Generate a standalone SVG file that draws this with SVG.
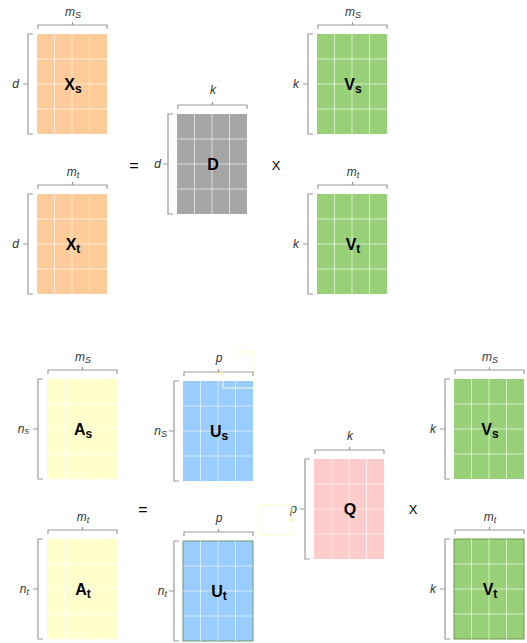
<svg xmlns="http://www.w3.org/2000/svg" xmlns:xlink="http://www.w3.org/1999/xlink" width="527" height="643" viewBox="0 0 527 643">
<style>
text{font-family:"Liberation Sans",Arial,sans-serif}
.lbl{font-size:12px;font-style:italic;fill:#333}
.sub{font-size:9px}
.big{font-size:16px;font-weight:bold;fill:#000}
.bsub{font-size:12px}
.op{font-size:16px;fill:#000}
.opx{font-size:13px;fill:#000}
.grid{stroke:#fff;stroke-opacity:0.6;stroke-width:1;fill:none}
.brace{stroke:#999;stroke-width:1.2;fill:none}
.faint{stroke:#ffffcc;stroke-width:1;fill:none}
</style>
<defs>
<path id="grid" class="grid" d="M17.5 0V100M35 0V100M52.5 0V100M0 25H70M0 50H70M0 75H70"/>
<path id="brace" class="brace" d="M1 -5V-9H70V-5M35.5 -9V-12M-4 0H-9V100H-4M-9 50H-14"/>
</defs>
<g id="connectors"></g>
<g id="Xs" transform="translate(37,34)">
<rect width="70" height="100" fill="#ffcc99"/><use xlink:href="#grid"/><use xlink:href="#brace"/>
<text class="lbl" x="36" y="-18" text-anchor="middle">m<tspan class="sub" dy="2">S</tspan></text>
<text class="lbl" x="-18" y="54" text-anchor="end">d</text>
<text class="big" x="36" y="56" text-anchor="middle">X<tspan class="bsub" dy="3">s</tspan></text>
</g>
<g id="Xt" transform="translate(37,194)">
<rect width="70" height="100" fill="#ffcc99"/><use xlink:href="#grid"/><use xlink:href="#brace"/>
<text class="lbl" x="36" y="-18" text-anchor="middle">m<tspan class="sub" dy="2">t</tspan></text>
<text class="lbl" x="-18" y="54" text-anchor="end">d</text>
<text class="big" x="36" y="56" text-anchor="middle">X<tspan class="bsub" dy="3">t</tspan></text>
</g>
<g id="D" transform="translate(177,114)">
<rect width="70" height="100" fill="#a6a6a6"/><use xlink:href="#grid"/><use xlink:href="#brace"/>
<text class="lbl" x="36" y="-20" text-anchor="middle">k</text>
<text class="lbl" x="-16" y="54" text-anchor="end">d</text>
<text class="big" x="36" y="56" text-anchor="middle">D</text>
</g>
<g id="Vs" transform="translate(317,34)">
<rect width="70" height="100" fill="#97d077"/><use xlink:href="#grid"/><use xlink:href="#brace"/>
<text class="lbl" x="36" y="-18" text-anchor="middle">m<tspan class="sub" dy="2">S</tspan></text>
<text class="lbl" x="-18" y="54" text-anchor="end">k</text>
<text class="big" x="36" y="56" text-anchor="middle">V<tspan class="bsub" dy="3">s</tspan></text>
</g>
<g id="Vt" transform="translate(317,194)">
<rect width="70" height="100" fill="#97d077"/><use xlink:href="#grid"/><use xlink:href="#brace"/>
<text class="lbl" x="36" y="-18" text-anchor="middle">m<tspan class="sub" dy="2">t</tspan></text>
<text class="lbl" x="-18" y="54" text-anchor="end">k</text>
<text class="big" x="36" y="56" text-anchor="middle">V<tspan class="bsub" dy="3">t</tspan></text>
</g>
<g id="ops">
<text class="op" x="134" y="171" text-anchor="middle">=</text>
<text class="opx" x="276" y="170" text-anchor="middle">X</text>
<text class="op" x="143" y="515" text-anchor="middle">=</text>
<text class="opx" x="413" y="514" text-anchor="middle">X</text>
</g>
<g id="As" transform="translate(47,379)">
<rect width="70" height="100" fill="#ffffcc"/><use xlink:href="#grid"/><use xlink:href="#brace"/>
<text class="lbl" x="36" y="-18" text-anchor="middle">m<tspan class="sub" dy="2">S</tspan></text>
<text class="lbl" x="-18" y="54" text-anchor="end">n<tspan class="sub" dy="1">s</tspan></text>
<text class="big" x="36" y="56" text-anchor="middle">A<tspan class="bsub" dy="3">s</tspan></text>
</g>
<g id="At" transform="translate(47,539)">
<rect width="70" height="100" fill="#ffffcc"/><use xlink:href="#grid"/><use xlink:href="#brace"/>
<text class="lbl" x="36" y="-18" text-anchor="middle">m<tspan class="sub" dy="2">t</tspan></text>
<text class="lbl" x="-18" y="54" text-anchor="end">n<tspan class="sub" dy="2">t</tspan></text>
<text class="big" x="36" y="56" text-anchor="middle">A<tspan class="bsub" dy="3">t</tspan></text>
</g>
<g id="Us" transform="translate(183,381)">
<rect width="70" height="100" fill="#99ccff"/><use xlink:href="#grid"/><use xlink:href="#brace"/>
<text class="lbl" x="36" y="-19" text-anchor="middle">p</text>
<text class="lbl" x="-16" y="54" text-anchor="end">n<tspan class="sub" dy="2">S</tspan></text>
<text class="big" x="36" y="56" text-anchor="middle">U<tspan class="bsub" dy="3">s</tspan></text>
</g>
<g id="Ut" transform="translate(183,541)">
<rect width="70" height="100" fill="#99ccff" stroke="#6d9a6a" stroke-width="1"/><use xlink:href="#grid"/><use xlink:href="#brace"/>
<text class="lbl" x="36" y="-19" text-anchor="middle">p</text>
<text class="lbl" x="-16" y="54" text-anchor="end">n<tspan class="sub" dy="2">t</tspan></text>
<text class="big" x="36" y="56" text-anchor="middle">U<tspan class="bsub" dy="3">t</tspan></text>
</g>
<g id="Q" transform="translate(314,459)">
<rect width="70" height="100" fill="#ffcccc"/><use xlink:href="#grid"/><use xlink:href="#brace"/>
<text class="lbl" x="36" y="-19" text-anchor="middle">k</text>
<text class="lbl" x="-17" y="54" text-anchor="end">p</text>
<text class="big" x="36" y="56" text-anchor="middle">Q</text>
</g>
<g id="Vs2" transform="translate(454,379)">
<rect width="70" height="100" fill="#97d077"/><use xlink:href="#grid"/><use xlink:href="#brace"/>
<text class="lbl" x="36" y="-18" text-anchor="middle">m<tspan class="sub" dy="2">S</tspan></text>
<text class="lbl" x="-18" y="54" text-anchor="end">k</text>
<text class="big" x="36" y="56" text-anchor="middle">V<tspan class="bsub" dy="3">s</tspan></text>
</g>
<g id="Vt2" transform="translate(454,539)">
<rect width="70" height="100" fill="#97d077" stroke="#6d9a50" stroke-width="1"/><use xlink:href="#grid"/><use xlink:href="#brace"/>
<text class="lbl" x="36" y="-18" text-anchor="middle">m<tspan class="sub" dy="2">t</tspan></text>
<text class="lbl" x="-18" y="54" text-anchor="end">k</text>
<text class="big" x="36" y="56" text-anchor="middle">V<tspan class="bsub" dy="3">t</tspan></text>
</g>
<g id="artifacts">
<path class="faint" d="M230 352H255V388H223V373"/>
<circle cx="222" cy="373" r="1.5" fill="#ffeeaa"/>
<rect class="faint" x="258" y="505" width="34" height="30"/>
<circle cx="291" cy="520" r="1.5" fill="#ffeeaa"/>
</g>
</svg>
